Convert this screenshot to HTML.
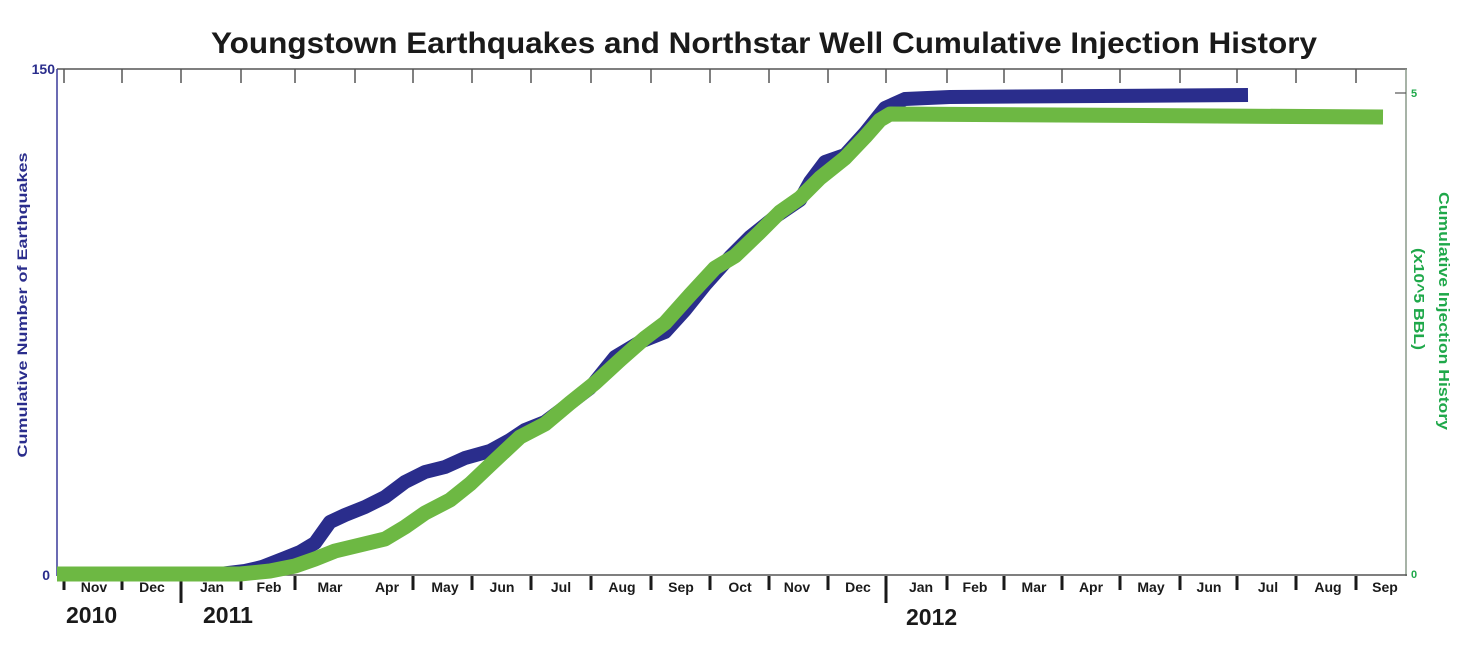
<!DOCTYPE html>
<html><head><meta charset="utf-8"><style>
html,body{margin:0;padding:0;background:#fff;}
svg{display:block;font-family:"Liberation Sans",sans-serif;}
</style></head><body>
<svg width="1460" height="648" viewBox="0 0 1460 648" xmlns="http://www.w3.org/2000/svg">
<text x="764" y="53" text-anchor="middle" font-size="30" font-weight="bold" fill="#1a1a1a" textLength="1106" lengthAdjust="spacingAndGlyphs">Youngstown Earthquakes and Northstar Well Cumulative Injection History</text>
<!-- frame -->
<line x1="57" y1="69" x2="1407" y2="69" stroke="#555" stroke-width="1.5"/>
<line x1="57" y1="69" x2="57" y2="576" stroke="#3a3a9a" stroke-width="1.5"/>
<line x1="1406" y1="69" x2="1406" y2="576" stroke="#8a9a8a" stroke-width="1.5"/>
<line x1="57" y1="575" x2="1407" y2="575" stroke="#555" stroke-width="1.5"/>
<line x1="1395" y1="93" x2="1406" y2="93" stroke="#555" stroke-width="1.2"/>
<g stroke="#555" stroke-width="1.5">
<line x1="64" y1="69" x2="64" y2="83"/><line x1="122" y1="69" x2="122" y2="83"/><line x1="181" y1="69" x2="181" y2="83"/><line x1="241" y1="69" x2="241" y2="83"/><line x1="295" y1="69" x2="295" y2="83"/><line x1="355" y1="69" x2="355" y2="83"/><line x1="413" y1="69" x2="413" y2="83"/><line x1="472" y1="69" x2="472" y2="83"/><line x1="531" y1="69" x2="531" y2="83"/><line x1="591" y1="69" x2="591" y2="83"/><line x1="651" y1="69" x2="651" y2="83"/><line x1="710" y1="69" x2="710" y2="83"/><line x1="769" y1="69" x2="769" y2="83"/><line x1="828" y1="69" x2="828" y2="83"/><line x1="886" y1="69" x2="886" y2="83"/><line x1="947" y1="69" x2="947" y2="83"/><line x1="1004" y1="69" x2="1004" y2="83"/><line x1="1062" y1="69" x2="1062" y2="83"/><line x1="1120" y1="69" x2="1120" y2="83"/><line x1="1180" y1="69" x2="1180" y2="83"/><line x1="1237" y1="69" x2="1237" y2="83"/><line x1="1296" y1="69" x2="1296" y2="83"/><line x1="1356" y1="69" x2="1356" y2="83"/>
</g>
<g stroke="#1a1a1a" stroke-width="3">
<line x1="64" y1="576" x2="64" y2="590"/><line x1="122" y1="576" x2="122" y2="590"/><line x1="181" y1="576" x2="181" y2="603"/><line x1="241" y1="576" x2="241" y2="590"/><line x1="295" y1="576" x2="295" y2="590"/><line x1="413" y1="576" x2="413" y2="590"/><line x1="472" y1="576" x2="472" y2="590"/><line x1="531" y1="576" x2="531" y2="590"/><line x1="591" y1="576" x2="591" y2="590"/><line x1="651" y1="576" x2="651" y2="590"/><line x1="710" y1="576" x2="710" y2="590"/><line x1="769" y1="576" x2="769" y2="590"/><line x1="828" y1="576" x2="828" y2="590"/><line x1="886" y1="576" x2="886" y2="603"/><line x1="947" y1="576" x2="947" y2="590"/><line x1="1004" y1="576" x2="1004" y2="590"/><line x1="1062" y1="576" x2="1062" y2="590"/><line x1="1120" y1="576" x2="1120" y2="590"/><line x1="1180" y1="576" x2="1180" y2="590"/><line x1="1237" y1="576" x2="1237" y2="590"/><line x1="1296" y1="576" x2="1296" y2="590"/><line x1="1356" y1="576" x2="1356" y2="590"/>
</g>
<g font-size="14" font-weight="bold" fill="#1a1a1a" text-anchor="middle">
<text x="94" y="592">Nov</text><text x="152" y="592">Dec</text><text x="212" y="592">Jan</text><text x="269" y="592">Feb</text><text x="330" y="592">Mar</text><text x="387" y="592">Apr</text><text x="445" y="592">May</text><text x="502" y="592">Jun</text><text x="561" y="592">Jul</text><text x="622" y="592">Aug</text><text x="681" y="592">Sep</text><text x="740" y="592">Oct</text><text x="797" y="592">Nov</text><text x="858" y="592">Dec</text><text x="921" y="592">Jan</text><text x="975" y="592">Feb</text><text x="1034" y="592">Mar</text><text x="1091" y="592">Apr</text><text x="1151" y="592">May</text><text x="1209" y="592">Jun</text><text x="1268" y="592">Jul</text><text x="1328" y="592">Aug</text><text x="1385" y="592">Sep</text>
</g>
<g font-size="23" font-weight="bold" fill="#1a1a1a">
<text x="66" y="623">2010</text><text x="203" y="623">2011</text><text x="906" y="625">2012</text>
</g>
<g font-weight="bold" fill="#2a2d8c" font-size="14">
<text x="55" y="74" text-anchor="end">150</text>
<text x="50" y="580" text-anchor="end">0</text>
<text transform="translate(27,305) rotate(-90)" text-anchor="middle" textLength="305" lengthAdjust="spacingAndGlyphs">Cumulative Number of Earthquakes</text>
</g>
<g font-weight="bold" fill="#1fa84a" font-size="11">
<text x="1411" y="97">5</text>
<text x="1411" y="578">0</text>
</g>
<g font-weight="bold" fill="#1fa84a" font-size="15">
<text transform="translate(1439,311) rotate(90)" text-anchor="middle" textLength="238" lengthAdjust="spacingAndGlyphs">Cumulative Injection History</text>
<text transform="translate(1414,299) rotate(90)" text-anchor="middle" textLength="102" lengthAdjust="spacingAndGlyphs">(x10^5 BBL)</text>
</g>
<!-- series -->
<polyline fill="none" stroke="#2a2d8c" stroke-width="14" stroke-linejoin="round" points="57,574 220,574 245,571 262,567 285,558 300,552 315,543 330,522 345,515 365,507 385,497 405,482 425,472 445,467 465,458 490,451 510,440 525,430 545,422 565,407 590,388 615,357 640,342 665,332 685,310 705,285 730,257 750,237 775,217 800,200 810,182 825,162 845,155 865,133 885,108 905,99 950,97 1248,95"/>
<polyline fill="none" stroke="#6db843" stroke-width="15" stroke-linejoin="round" points="57,574 240,574 270,571 295,566 315,559 335,551 360,545 385,539 405,527 425,513 450,500 470,484 490,465 520,437 545,424 570,403 595,383 620,360 645,338 665,323 690,295 715,268 735,256 760,232 780,212 800,198 820,178 845,158 865,137 880,120 890,114 1383,117"/>
</svg>
</body></html>
